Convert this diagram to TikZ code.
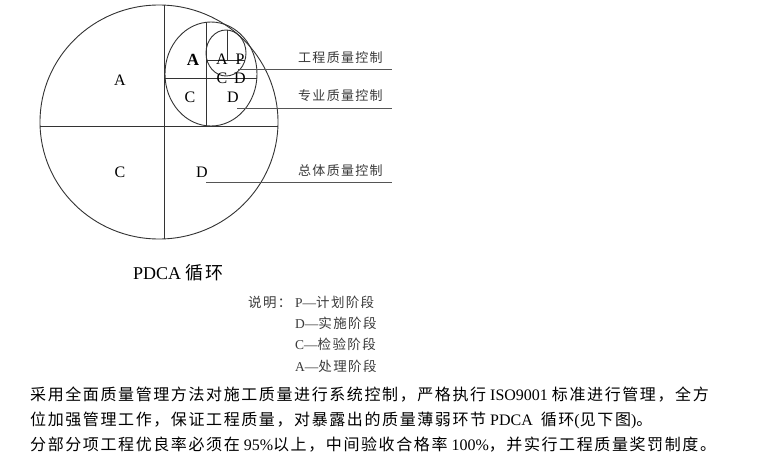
\documentclass[tikz,border=0pt]{standalone}
\usepackage{fontspec}
\setmainfont{Liberation Serif}
\newfontfamily\cjk[LetterSpace=10]{Noto Sans CJK SC}
\newcommand\zh[1]{{\cjk #1}}
\definecolor{ringgray}{HTML}{333333}
\definecolor{leadgray}{HTML}{555555}
\definecolor{taggray}{HTML}{3A3A3A}
\tikzset{
  ring/.style={draw=ringgray, line width=0.9pt},
  lead/.style={draw=leadgray, line width=0.9pt},
  letter/.style={inner sep=0pt, font=\fontsize{16}{16}\selectfont},
  tag/.style={inner sep=0pt, anchor=west, text=taggray, font=\fontsize{13}{14}\selectfont\cjk},
  note/.style={inner sep=0pt, anchor=west, text=taggray, font=\fontsize{13.5}{15}\selectfont},
  para/.style={inner sep=0pt, anchor=west, font=\fontsize{16}{18}\selectfont},
}
\begin{document}
\begin{tikzpicture}[x=1pt, y=-1pt]
				\useasboundingbox (0,0) rectangle (760,455);

				% circles and their quarters
				\draw[ring] (159,122) ellipse [x radius=119, y radius=117];
				\draw[ring] (164,5.1) -- (164,238.9);
				\draw[ring] (40.1,126) -- (277.9,126);
				\draw[ring] (211,74) ellipse [x radius=46, y radius=52];
				\draw[ring] (206,22.3) -- (206,125.7);
				\draw[ring] (165.1,78) -- (256.9,78);
				\draw[ring] (226,53) ellipse [x radius=20, y radius=23];
				\draw[ring] (227,30) -- (227,60);
				\draw[ring] (206.9,60) -- (245.1,60);

				\node[letter] (A1) at (120,80)  {A};
				\node[letter] (C1) at (120,172) {C};
				\node[letter] (D1) at (202,172) {D};
				\node[letter, font=\fontsize{17}{17}\selectfont\bfseries] (A2) at (193,60) {A};
				\node[letter] (C2) at (190,97)  {C};
				\node[letter] (D2) at (233,97)  {D};
				\node[letter] (A3) at (222,59) {A};
				\node[letter] (P3) at (240,59) {P};
				\node[letter] (C3) at (222,78) {C};
				\node[letter] (D3) at (240,78) {D};

				% leaders to the three levels
				\node[tag] (gc) at (298,58)  {工程质量控制};
				\node[tag] (zy) at (298,96)  {专业质量控制};
				\node[tag] (zt) at (298,171) {总体质量控制};
				\coordinate (gc0) at (238,69);  \coordinate (gc1) at (392,69);
				\coordinate (zy0) at (237,108); \coordinate (zy1) at (392,108);
				\coordinate (zt0) at (206,182); \coordinate (zt1) at (392,182);
				\path[lead] (gc0) edge (gc1);
				\path[lead] (zy0) edge (zy1);
				\path[lead] (zt0) edge (zt1);

				\node[inner sep=0pt, anchor=west, font=\fontsize{18}{18}\selectfont] (title) at (133,273) {PDCA \zh{循环}};

				\node[note] (sm) at (248,302) {\zh{说明：}};
				\node[note] (nP) at (295,302) {P—\zh{计划阶段}};
				\node[note] (nD) at (295,323) {D—\zh{实施阶段}};
				\node[note] (nC) at (295,344) {C—\zh{检验阶段}};
				\node[note] (nA) at (295,366) {A—\zh{处理阶段}};

				\node[para] (L1) at (30,395) {\zh{采用全面质量管理方法对施工质量进行系统控制，严格执行} ISO9001 \zh{标准进行管理，全方}};
				\node[para] (L2) at (30,420) {\zh{位加强管理工作，保证工程质量，对暴露出的质量薄弱环节} PDCA \ \zh{循环}(\zh{见下图})\zh{。}};
				\node[para] (L3) at (30,445) {\zh{分部分项工程优良率必须在} 95\%\zh{以上，中间验收合格率} 100\%\zh{，并实行工程质量奖罚制度。}};
			\end{tikzpicture}
\end{document}
